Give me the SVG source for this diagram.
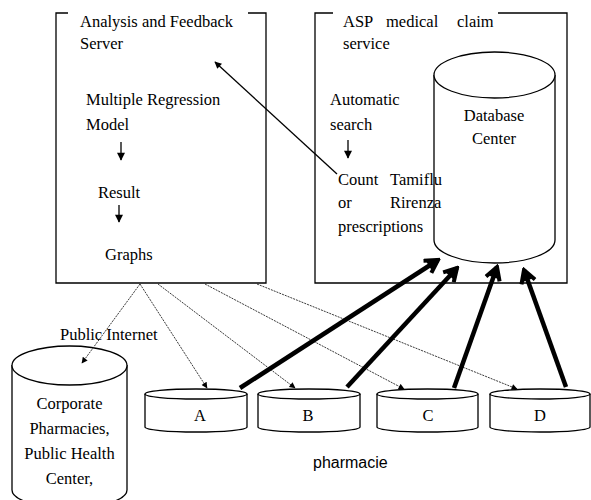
<svg xmlns="http://www.w3.org/2000/svg" width="591" height="500" viewBox="0 0 591 500">
<defs>
<style>
.t{font-family:"Liberation Serif","Times New Roman",serif;font-size:16.5px;fill:#000}
.s{font-family:"Liberation Sans",Arial,sans-serif;font-size:16px;fill:#000}
.ln{fill:none;stroke:#000;stroke-width:1.3}
.dot{fill:none;stroke:#222;stroke-width:0.9;stroke-dasharray:2 1}
.thick{fill:none;stroke:#000;stroke-width:4.5}
.cyl{fill:#fff;stroke:#000;stroke-width:1.3}
</style>
<marker id="ah" viewBox="0 0 10 10" refX="9" refY="5" markerWidth="9" markerHeight="7" markerUnits="userSpaceOnUse" orient="auto"><path d="M0,0 L10,5 L0,10 z" fill="#000"/></marker>
<marker id="ahs" viewBox="0 0 10 10" refX="9" refY="5" markerWidth="12" markerHeight="8" markerUnits="userSpaceOnUse" orient="auto"><path d="M0,0 L10,5 L0,10 z" fill="#000"/></marker>
<marker id="ahd" viewBox="0 0 10 10" refX="9" refY="5" markerWidth="8" markerHeight="6" markerUnits="userSpaceOnUse" orient="auto"><path d="M0,0 L10,5 L0,10 z" fill="#000"/></marker>
<marker id="ahT" viewBox="0 0 20 20" refX="17" refY="10" markerWidth="18" markerHeight="18" markerUnits="userSpaceOnUse" orient="auto"><path d="M3,2 L17,10 L3,18" fill="none" stroke="#000" stroke-width="4.5"/><path d="M5,5 L17,10 L5,15 z" fill="#000"/></marker>
</defs>

<g id="analysis-server">
<path class="ln" d="M68,13 L56,13 L56,283 L266,283 L266,13 L248,13"/>
<text class="t" x="80" y="27">Analysis and Feedback</text>
<text class="t" x="80" y="48.5">Server</text>
<text class="t" x="86" y="105">Multiple Regression</text>
<text class="t" x="86" y="130">Model</text>
<line class="ln" x1="121" y1="142" x2="121" y2="160" marker-end="url(#ahs)"/>
<text class="t" x="98" y="198">Result</text>
<line class="ln" x1="119" y1="205" x2="119" y2="222" marker-end="url(#ahs)"/>
<text class="t" x="105" y="260">Graphs</text>
</g>

<g id="database-center">
<path class="cyl" d="M434,75 L434,240 A60.5,23 0 0 0 555,240 L555,75"/>
<ellipse class="cyl" cx="494.5" cy="75" rx="60.5" ry="23"/>
<text class="t" x="494" y="121" text-anchor="middle">Database</text>
<text class="t" x="494" y="144" text-anchor="middle">Center</text>
</g>

<g id="asp-service">
<path class="ln" d="M333,13 L315,13 L315,283 L567,283 L567,13 L498,13"/>
<text class="t" x="343" y="27">ASP</text>
<text class="t" x="386" y="27">medical</text>
<text class="t" x="457" y="27">claim</text>
<text class="t" x="343" y="48.5">service</text>
<text class="t" x="330" y="105">Automatic</text>
<text class="t" x="330" y="130">search</text>
<line class="ln" x1="348" y1="140" x2="348" y2="158" marker-end="url(#ahs)"/>
<text class="t" x="338" y="185">Count</text>
<text class="t" x="390" y="185">Tamiflu</text>
<text class="t" x="338" y="208">or</text>
<text class="t" x="390" y="208">Rirenza</text>
<text class="t" x="338" y="232">prescriptions</text>
</g>

<g id="corporate">
<path class="cyl" d="M12,365 L12,490 A57.5,18 0 0 0 127,490 L127,365"/>
<ellipse class="cyl" cx="69.5" cy="365.5" rx="57.5" ry="19.5"/>
<text class="t" x="69.5" y="409" text-anchor="middle">Corporate</text>
<text class="t" x="69.5" y="434" text-anchor="middle">Pharmacies,</text>
<text class="t" x="69.5" y="459" text-anchor="middle">Public Health</text>
<text class="t" x="69.5" y="484" text-anchor="middle">Center,</text>
</g>

<g id="pharmacy-a">
<path class="cyl" d="M145,394 L145,427 A51,5 0 0 0 247,427 L247,394"/>
<ellipse class="cyl" cx="196" cy="394" rx="51" ry="5"/>
<text class="t" x="200" y="421" text-anchor="middle">A</text>
</g>
<g id="pharmacy-b">
<path class="cyl" d="M258,394 L258,427 A51,5 0 0 0 360,427 L360,394"/>
<ellipse class="cyl" cx="309" cy="394" rx="51" ry="5"/>
<text class="t" x="308" y="421" text-anchor="middle">B</text>
</g>
<g id="pharmacy-c">
<path class="cyl" d="M377,394 L377,427 A50.5,5 0 0 0 478,427 L478,394"/>
<ellipse class="cyl" cx="427.5" cy="394" rx="50.5" ry="5"/>
<text class="t" x="428" y="421" text-anchor="middle">C</text>
</g>
<g id="pharmacy-d">
<path class="cyl" d="M490,394 L490,427 A50,5 0 0 0 590,427 L590,394"/>
<ellipse class="cyl" cx="540" cy="394" rx="50" ry="5"/>
<text class="t" x="540" y="421" text-anchor="middle">D</text>
</g>

<g id="labels">
<text class="t" x="60" y="340">Public Internet</text>
<text class="s" x="313" y="468">pharmacie</text>
</g>

<g id="connectors">
<line class="ln" x1="337" y1="174" x2="215" y2="62" marker-end="url(#ah)"/>
<line class="dot" x1="140" y1="284" x2="82" y2="363" marker-end="url(#ahd)"/>
<line class="dot" x1="140" y1="284" x2="207" y2="388" marker-end="url(#ahd)"/>
<line class="dot" x1="158" y1="284" x2="295" y2="388" marker-end="url(#ahd)"/>
<line class="dot" x1="205" y1="284" x2="404" y2="389" marker-end="url(#ahd)"/>
<line class="dot" x1="257" y1="284" x2="517" y2="389" marker-end="url(#ahd)"/>
<line class="thick" x1="240" y1="388" x2="438" y2="260" marker-end="url(#ahT)"/>
<line class="thick" x1="347" y1="387" x2="457" y2="268" marker-end="url(#ahT)"/>
<line class="thick" x1="454" y1="388" x2="497" y2="267" marker-end="url(#ahT)"/>
<line class="thick" x1="566" y1="387" x2="524" y2="270" marker-end="url(#ahT)"/>
</g>
</svg>
